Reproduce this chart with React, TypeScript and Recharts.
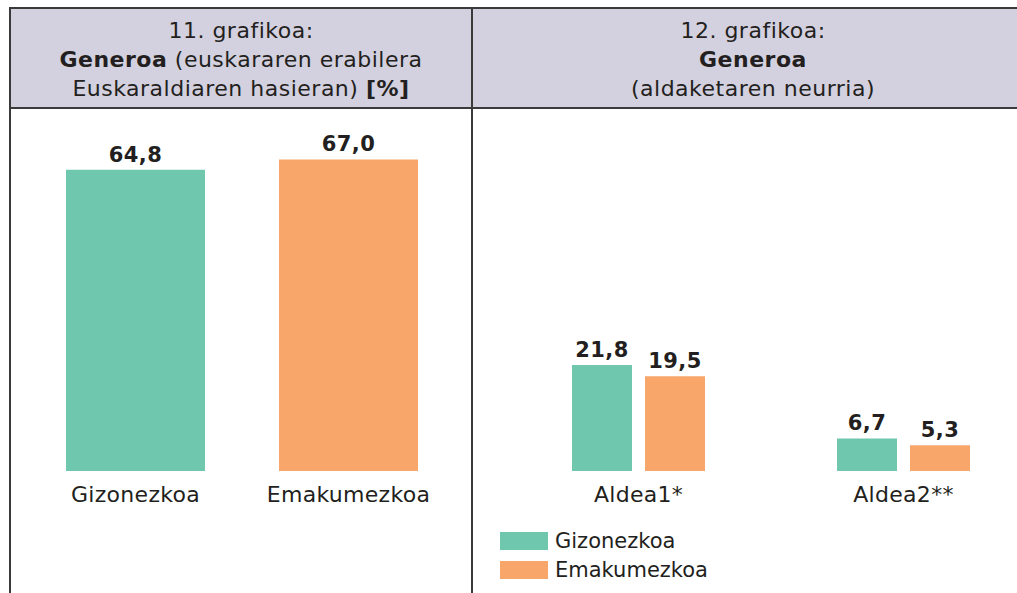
import React from 'react';
import { BarChart, Bar, XAxis, YAxis, Cell, LabelList } from 'recharts';

// 11. grafikoa
const leftCategories = ['Gizonezkoa', 'Emakumezkoa'];
const leftValues = [64.8, 67.0];

// 12. grafikoa
const rightCategories = ['Aldea1*', 'Aldea2**'];
const menValues = [21.8, 6.7];
const womenValues = [19.5, 5.3];
const seriesNames = ['Gizonezkoa', 'Emakumezkoa'];

const GREEN = '#6fc8ae';
const ORANGE = '#f8a66a';
const TEXT = '#231f20';
const HEADER_BG = '#d3d1df';
const LINE = '#3a3a3a';
const FONT = '"DejaVu Sans", "Noto Sans", sans-serif';

const fmt = (v: any) => Number(v).toFixed(1).replace('.', ',');

const leftData = leftCategories.map((c, i) => ({ name: c, value: leftValues[i] }));
const rightData = rightCategories.map((c, i) => ({
  name: c,
  men: menValues[i],
  women: womenValues[i],
}));

const tickStyle = { fill: TEXT, fontSize: 22, fontFamily: FONT, letterSpacing: 0.3 };
const labelStyle = { fill: TEXT, fontSize: 21, fontWeight: 700, fontFamily: FONT, letterSpacing: 0.4 };

function SeriesLegend() {
  const colors = [GREEN, ORANGE];
  return (
    <div style={{ position: 'absolute', left: 500, top: 526, fontSize: 21, color: TEXT }}>
      {seriesNames.map((n, i) => (
        <div key={n} style={{ display: 'flex', alignItems: 'center', height: 29 }}>
          <span style={{ display: 'inline-block', width: 48, height: 18, background: colors[i], marginRight: 7 }} />
          <span>{n}</span>
        </div>
      ))}
    </div>
  );
}

export default function App() {
  const headerCell: React.CSSProperties = {
    position: 'absolute',
    top: 0,
    height: 98,
    background: HEADER_BG,
    textAlign: 'center',
    fontSize: 22,
    letterSpacing: 0.5,
    lineHeight: '29px',
    color: TEXT,
    paddingTop: 7,
    boxSizing: 'border-box',
  };

  return (
    <div
      style={{
        position: 'fixed',
        left: 0,
        top: 0,
        width: 1017,
        height: 593,
        overflow: 'hidden',
        background: '#fff',
        fontFamily: FONT,
      }}
    >
      {/* table frame */}
      <div style={{ position: 'absolute', left: 9, top: 7, width: 1040, height: 620, border: `2px solid ${LINE}` }}>
        <div style={{ ...headerCell, left: 0, width: 460 }}>
          <div>11. grafikoa:</div>
          <div>
            <b>Generoa</b> (euskararen erabilera
          </div>
          <div>
            Euskaraldiaren hasieran) <b>[%]</b>
          </div>
        </div>
        <div style={{ ...headerCell, left: 462, width: 560 }}>
          <div>12. grafikoa:</div>
          <div>
            <b>Generoa</b>
          </div>
          <div>(aldaketaren neurria)</div>
        </div>
        <div style={{ position: 'absolute', left: 0, top: 98, width: 1040, height: 2, background: LINE }} />
        <div style={{ position: 'absolute', left: 460, top: 0, width: 2, height: 620, background: LINE }} />
      </div>

      {/* left chart */}
      <div style={{ position: 'absolute', left: 10, top: 108 }}>
        <BarChart width={460} height={485} data={leftData} margin={{ top: 37.5, right: 15, bottom: 82, left: 19 }}>
          <XAxis
            dataKey="name"
            axisLine={false}
            tickLine={false}
            tickSize={0}
            tickMargin={15}
            height={40}
            interval={0}
            tick={tickStyle}
          />
          <YAxis hide domain={[0, 70]} />
          <Bar dataKey="value" barSize={139} isAnimationActive={false}>
            {leftData.map((d, i) => (
              <Cell key={d.name} fill={i === 0 ? GREEN : ORANGE} />
            ))}
            <LabelList dataKey="value" position="top" offset={8} formatter={fmt} style={labelStyle} />
          </Bar>
        </BarChart>
      </div>

      {/* right chart */}
      <div style={{ position: 'absolute', left: 472, top: 108 }}>
        <BarChart
          width={570}
          height={485}
          data={rightData}
          barGap={13}
          margin={{ top: 37.5, right: 6, bottom: 82, left: 34 }}
        >
          <XAxis
            dataKey="name"
            axisLine={false}
            tickLine={false}
            tickSize={0}
            tickMargin={15}
            height={40}
            interval={0}
            tick={tickStyle}
          />
          <YAxis hide domain={[0, 67]} />
          <Bar dataKey="men" name={seriesNames[0]} fill={GREEN} barSize={60} isAnimationActive={false}>
            <LabelList dataKey="men" position="top" offset={8} formatter={fmt} style={labelStyle} />
          </Bar>
          <Bar dataKey="women" name={seriesNames[1]} fill={ORANGE} barSize={60} isAnimationActive={false}>
            <LabelList dataKey="women" position="top" offset={8} formatter={fmt} style={labelStyle} />
          </Bar>
        </BarChart>
      </div>

      <SeriesLegend />
    </div>
  );
}
